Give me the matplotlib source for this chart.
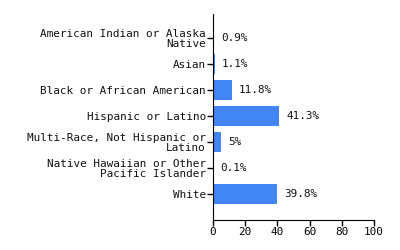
import matplotlib
matplotlib.use("Agg")
import matplotlib.pyplot as plt

categories = [
    "American Indian or Alaska\nNative",
    "Asian",
    "Black or African American",
    "Hispanic or Latino",
    "Multi-Race, Not Hispanic or\nLatino",
    "Native Hawaiian or Other\nPacific Islander",
    "White",
]
values = [0.9, 1.1, 11.8, 41.3, 5, 0.1, 39.8]
value_labels = ["0.9%", "1.1%", "11.8%", "41.3%", "5%", "0.1%", "39.8%"]
xticks = [0, 20, 40, 60, 80, 100]

plt.rcParams['font.family'] = ['DejaVu Sans Mono']
plt.rcParams['font.size'] = 7.9

fig = plt.figure(figsize=(4, 2.5), dpi=100)
ax = fig.add_axes([0.5325, 0.12, 0.935 - 0.5325, 0.944 - 0.12])

pos = list(range(len(categories)))
ax.barh(pos, values, height=0.8, color='#4285f4')
for p, v, lab in zip(pos, values, value_labels):
    ax.annotate(lab, (v, p), xytext=(5, 0), textcoords='offset points',
                va='center', ha='left', fontsize=7.9, color='#111111')

ax.set_xlim(0, 100)
ax.set_ylim(7.0, -0.92)
ax.set_xticks(xticks)
ax.set_yticks(pos)
ax.set_yticklabels(categories, linespacing=0.95)
ax.spines['top'].set_visible(False)
ax.spines['right'].set_visible(False)
ax.tick_params(axis='both', direction='out', length=4, width=1, colors='black', labelsize=7.9, pad=1)
ax.tick_params(axis='y', labelcolor='#111111')

fig.savefig('out.png', dpi=100)
